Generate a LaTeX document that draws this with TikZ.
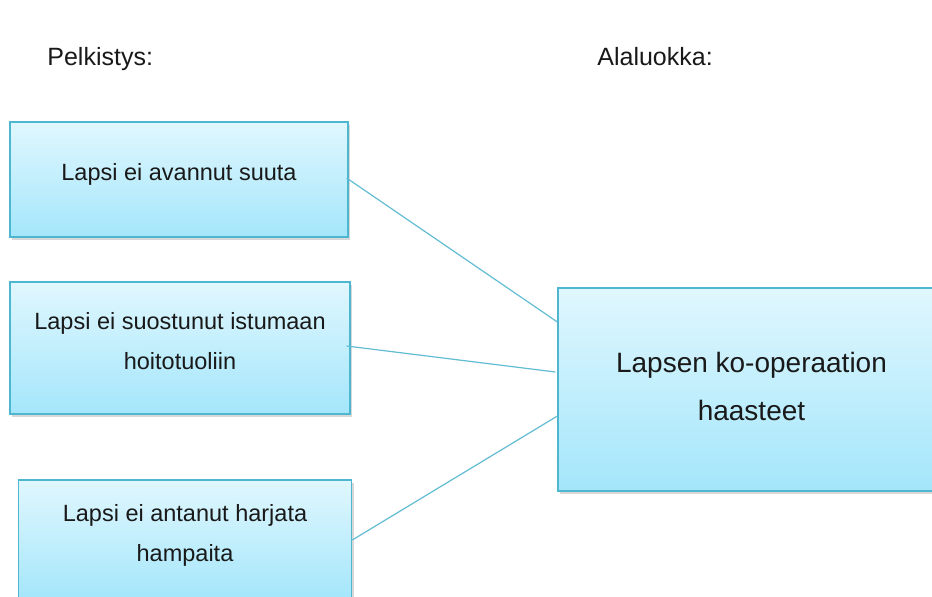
\documentclass[tikz,border=0pt]{standalone}
\usepackage{fontspec}
\setmainfont{Liberation Sans}
\usetikzlibrary{positioning, shadows, calc}

\definecolor{boxtop}{HTML}{E0F7FE}
\definecolor{boxbot}{HTML}{A4E6FB}
\definecolor{boxline}{HTML}{4FB6CF}
\definecolor{connline}{HTML}{62BDD3}

% Text set with zero height so its baseline sits at a fixed offset from the box centre
\newcommand{\boxtext}[3]{\raisebox{#1}[0pt][0pt]{\parbox[b]{#2}{\centering #3}}}

\begin{document}
\begin{tikzpicture}[
    x=0.5pt, y=-0.5pt,
    % Gradient boxes with a soft shadow
    block/.style={
        draw=boxline,
        line width=0.6pt,
        rectangle,
        top color=boxtop,
        bottom color=boxbot,
        drop shadow={opacity=0.3, shadow xshift=1.2pt, shadow yshift=-1.5pt},
        font=\fontsize{11.75}{20}\selectfont,
        text=black!90,
        align=center
    },
    conn/.style={draw=connline, line width=0.6pt},
    lbl/.style={anchor=base west, inner sep=0pt, font=\fontsize{12.5}{15}\selectfont, text=black!90}
]
    \clip (0,0) rectangle (932,596);
    \fill[white] (0,0) rectangle (932,596);

    % --- Headers ---
    \node[lbl] (hpelk) at (47,65.5) {Pelkistys:};
    \node[lbl] (halal) at (597,65.5) {Alaluokka:};

    % --- Nodes ---
    \node[block, minimum width=169pt, minimum height=57.5pt] (b1) at (179,179.5)
        {\boxtext{-0.5pt}{160pt}{Lapsi ei avannut suuta}};
    \node[block, minimum width=170pt, minimum height=66pt] (b2) at (180,348)
        {\boxtext{-10.5pt}{160pt}{Lapsi ei suostunut istumaan\\ hoitotuoliin}};
    \node[block, minimum width=166pt, minimum height=60pt] (b3) at (185,540)
        {\boxtext{-10.5pt}{160pt}{Lapsi ei antanut harjata\\ hampaita}};

    \node[block, minimum width=193.5pt, minimum height=101.5pt,
          font=\fontsize{14}{24}\selectfont] (main) at (751.5,389.5)
        {\boxtext{-15.5pt}{180pt}{Lapsen ko-operaation\\ haasteet}};

    % --- Edges ---
    \draw[conn] ([xshift=-1pt,yshift=0.75pt]b1.east) -- ([yshift=33.75pt]main.west);
    \draw[conn] ([xshift=-2pt,yshift=1pt]b2.east) -- ([xshift=-1pt,yshift=8.75pt]main.west);
    \draw[conn] (b3.east) -- ([yshift=-13.25pt]main.west);

\end{tikzpicture}
\end{document}
